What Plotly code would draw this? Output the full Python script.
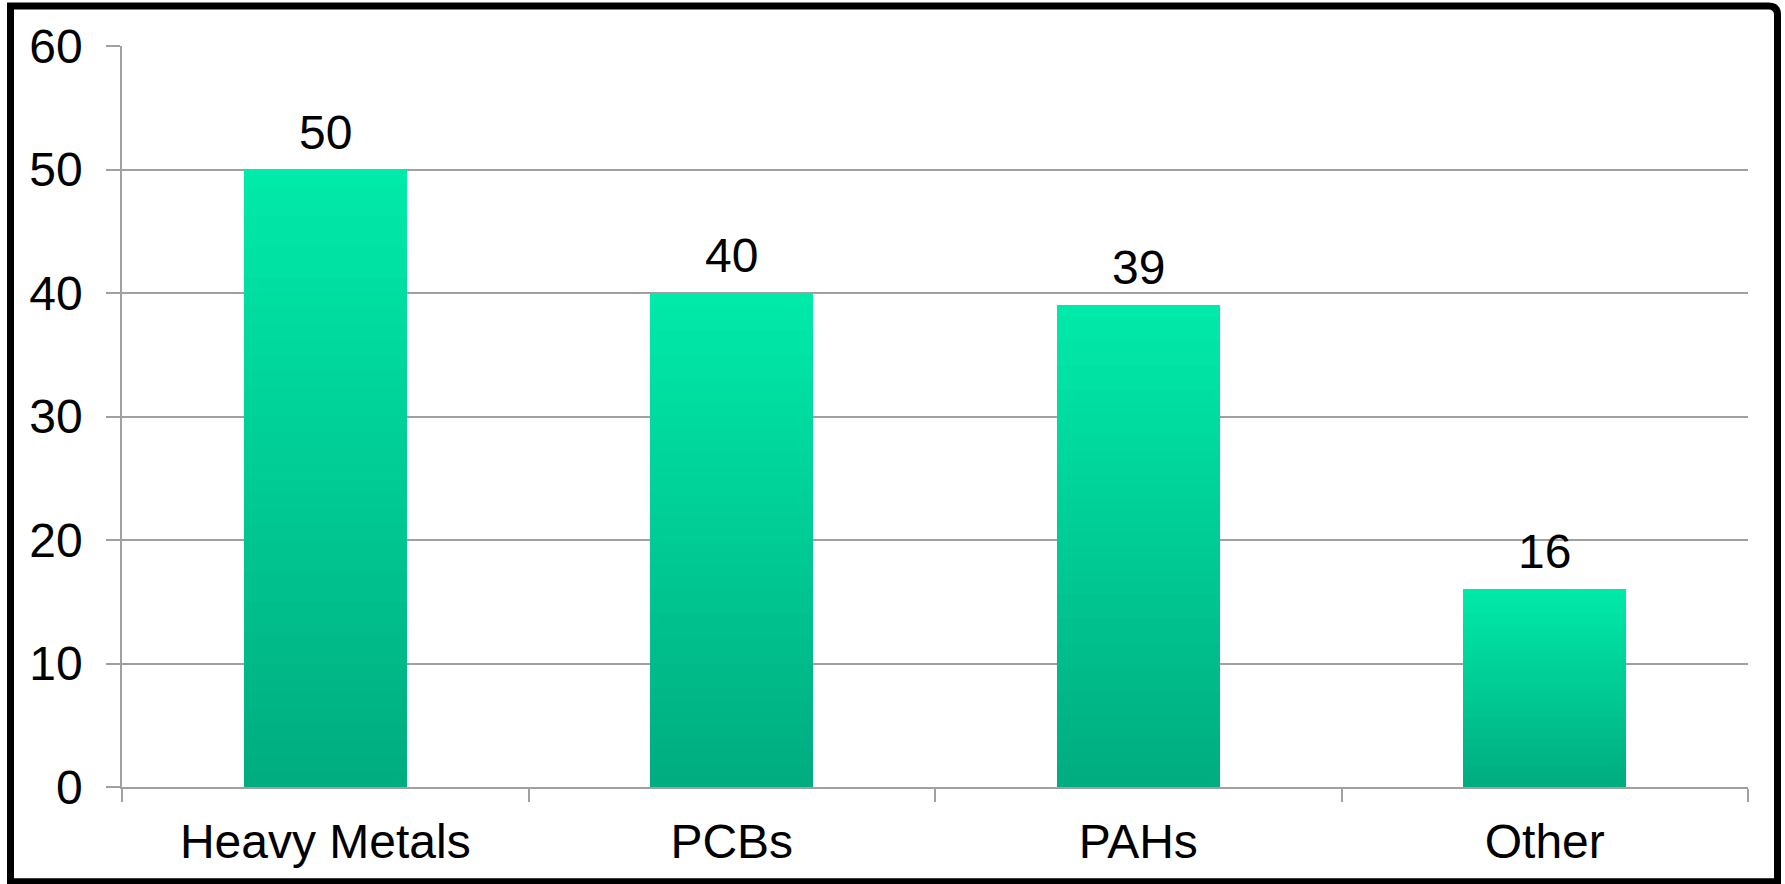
import plotly.graph_objects as go

categories = ["Heavy Metals", "PCBs", "PAHs", "Other"]
values = [50, 40, 39, 16]
y_ticks = [0, 10, 20, 30, 40, 50, 60]

W, H = 1785, 884
ML, MR, MT, MB = 122, 37, 45.5, 97.3
PW, PH = W - ML - MR, H - MT - MB

top_rgb = (0, 234, 169)
bot_rgb = (0, 173, 128)
N = 40

fig = go.Figure()
for i in range(N):
    t = i / (N - 1)
    c = tuple(round(bot_rgb[k] + (top_rgb[k] - bot_rgb[k]) * t) for k in range(3))
    fig.add_trace(go.Bar(
        x=categories,
        y=[v / N for v in values],
        width=0.4,
        marker=dict(color="rgb(%d,%d,%d)" % c, line=dict(width=0)),
        hoverinfo="skip",
        showlegend=False,
    ))

font = dict(family="Liberation Sans, Arial, sans-serif", size=48, color="#000000")

for cat, v in zip(categories, values):
    fig.add_annotation(x=cat, y=v, text=str(v), showarrow=False,
                       yanchor="bottom", yshift=9, font=font)

# border
def px_to_paper_x(px):
    return (px - ML) / PW

def px_to_paper_y(py):
    return (H - MB - py) / PH

x0, x1 = px_to_paper_x(10.5), px_to_paper_x(1777.5)
y0, y1 = px_to_paper_y(881.5), px_to_paper_y(5.5)
rx, ry = 9 / PW, 9 / PH
path = (f"M {x0},{y0} L {x0},{y1} L {x1 - rx},{y1} "
        f"Q {x1},{y1} {x1},{y1 - ry} L {x1},{y0} Z")
fig.add_shape(type="path", path=path, xref="paper", yref="paper",
              line=dict(color="#000000", width=7), fillcolor="rgba(0,0,0,0)")

grey = "#a0a0a0"
fig.update_layout(
    width=W, height=H,
    margin=dict(l=ML, r=MR, t=MT, b=MB, pad=0),
    barmode="stack",
    bargap=0.6,
    plot_bgcolor="white", paper_bgcolor="white",
    font=font,
    xaxis=dict(
        type="category",
        showgrid=False,
        showline=True, linecolor=grey, linewidth=1.5,
        ticks="outside", ticklen=13, tickcolor=grey, tickwidth=1.5,
        tickson="boundaries",
        ticklabelstandoff=12,
        tickfont=font,
    ),
    yaxis=dict(
        range=[0, 60],
        tickvals=y_ticks,
        showgrid=True, gridcolor=grey, gridwidth=1.5,
        showline=True, linecolor=grey, linewidth=1.5,
        zeroline=False,
        ticks="outside", ticklen=14, tickcolor=grey, tickwidth=1.5,
        ticklabelstandoff=14,
        tickfont=font,
    ),
)

fig.write_html("out.html")
